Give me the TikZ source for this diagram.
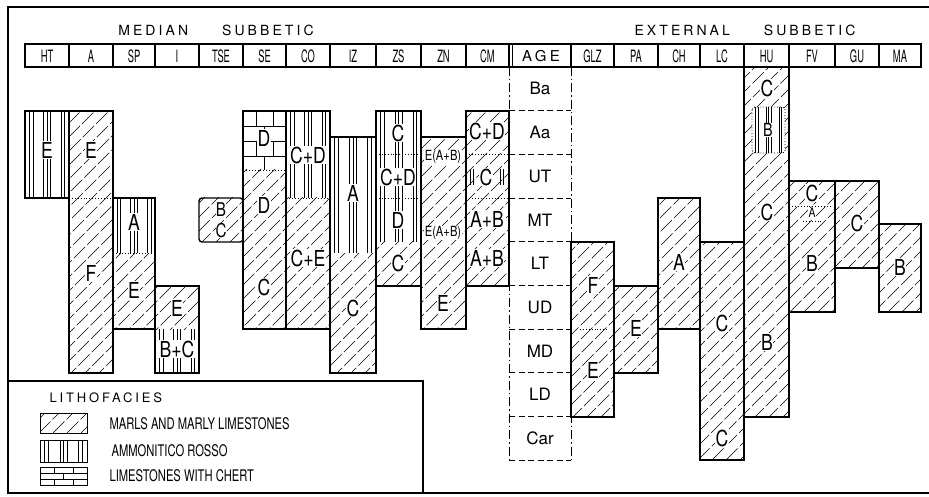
\documentclass[tikz,border=0pt]{standalone}
\usepackage{fontspec}
\setmainfont{TeX Gyre Heros}
\newfontfamily\barfont[FakeStretch=0.8]{TeX Gyre Heros}
\newfontfamily\narrowfont[FakeStretch=0.55]{TeX Gyre Heros}
\newfontfamily\legfont[FakeStretch=0.7]{TeX Gyre Heros}
\newfontfamily\spacedfont[LetterSpace=22]{TeX Gyre Heros}
\usepackage{tikz}

% marls: oblique hatching, clipped to the box
\newcommand\marlfill[4]{%
  \begin{scope}
    \clip (#1,#2) rectangle (#3,#4);
    \foreach \hx in {-560,-546,...,940} \draw[hatchline] (\hx,500) -- ++(560,-560);
  \end{scope}}
% ammonitico rosso: vertical lines
\newcommand\rossofill[4]{%
  \foreach \f in {0.1,0.18,0.42,0.5,0.58,0.82,0.9}
    \draw[rossoline] ({#1+\f*(#3-#1)},#2) -- ({#1+\f*(#3-#1)},#4);}
% limestones with chert: brick courses of height #5
\newcommand\chertfill[5]{%
  \begin{scope}
    \clip (#1,#2) rectangle (#3,#4);
    \pgfmathtruncatemacro\ncourse{round((#4-#2)/#5)-1}
    \foreach \k in {0,...,\ncourse}{
      \ifnum\k>0 \draw[chertline] (#1,{#2+#5*\k}) -- (#3,{#2+#5*\k});\fi
      \ifodd\k
        \draw[chertline] ({#1+0.5*(#3-#1)},{#2+#5*\k}) -- ++(0,#5);
      \else
        \draw[chertline] ({#1+0.3*(#3-#1)},{#2+#5*\k}) -- ++(0,#5);
        \draw[chertline] ({#1+0.7*(#3-#1)},{#2+#5*\k}) -- ++(0,#5);
      \fi}
  \end{scope}}

\begin{document}
\begin{tikzpicture}[x=1pt, y=-1pt,
    barbox/.style={draw, line width=1.4pt},
    hatchline/.style={line width=0.55pt, dash pattern=on 16pt off 3pt},
    rossoline/.style={line width=0.45pt},
    chertline/.style={line width=0.7pt},
    divider/.style={line width=0.9pt, dotted},
    hdrcell/.style={draw, line width=1.2pt},
    frameline/.style={line width=1.5pt},
    agesep/.style={line width=1pt, dash pattern=on 6pt off 3.5pt},
    ageside/.style={line width=0.8pt, dash pattern=on 9pt off 3pt on 1.5pt off 3pt},
    lbl/.style={fill=white, inner sep=0.6pt, font=\barfont\fontsize{22}{22}\selectfont},
    smalllbl/.style={lbl, font=\barfont\fontsize{14}{14}\selectfont},
    agelbl/.style={font=\fontsize{17}{17}\selectfont},
    hdr/.style={font=\narrowfont\fontsize{17}{17}\selectfont},
    regiontitle/.style={font=\spacedfont\fontsize{14}{14}\selectfont},
    legtxt/.style={anchor=west, font=\legfont\fontsize{16}{16}\selectfont}]

    \useasboundingbox (0,0) rectangle (929,497);

    % frame and legend box
    \draw[frameline] (929,7) -- (8,7) -- (8,493) -- (929,493);
    \draw[frameline] (8,381) -- (423,381) -- (423,493);

    \node[regiontitle] (median) at (216,30) {MEDIAN\hspace{34pt}SUBBETIC};
    \node[regiontitle] (external) at (745,30) {EXTERNAL\hspace{34pt}SUBBETIC};

    % header row
    \foreach \xa/\xb/\name in {25/69/HT, 69/113/A, 113/155/SP, 155/199/I, 199/243/TSE,
        243/286/SE, 286/330/CO, 330/376/IZ, 376/421/ZS, 421/466/ZN, 466/509/CM,
        571/614/GLZ, 614/658/PA, 658/700/CH, 700/744/LC, 744/789/HU, 789/835/FV,
        835/879/GU, 879/921/MA} {
      \draw[hdrcell] (\xa,44) rectangle (\xb,67);
      \node[hdr] (h\name) at ({(\xa+\xb)/2},56) {\name};
    }
    \draw[hdrcell] (509,44) rectangle (571,67);
    \draw[line width=0.8pt] (512,44) -- (512,67);
    \node[regiontitle, font=\spacedfont\fontsize{15}{15}\selectfont] (hAGE) at (541,56) {AGE};

    % age column
    \draw[ageside] (509,67) -- (509,460);
    \draw[ageside] (571,67) -- (571,460);
    \foreach \i in {1,...,9} \draw[agesep] (509,{67+43.7*\i}) -- (571,{67+43.7*\i});
    \foreach \lab [count=\i from 0] in {Ba,Aa,UT,MT,LT,UD,MD,LD,Car}
      \node[agelbl] (age\lab) at (540,{67+43.7*(\i+0.5)}) {\lab};

    % HT
    \rossofill{25}{111}{69}{198}
    \draw[barbox] (25,111) rectangle (69,198);
    \node[lbl] (htE) at (47,150) {E};

    % A
    \marlfill{69}{111}{113}{373}
    \draw[divider] (69,198) -- (113,198);
    \draw[barbox] (69,111) rectangle (113,373);
    \node[lbl] (aE) at (91,150) {E};
    \node[lbl] (aF) at (91,273) {F};

    % SP
    \rossofill{113}{198}{155}{253}
    \marlfill{113}{253}{155}{329}
    \draw[divider] (113,253) -- (155,253);
    \draw[barbox] (113,198) rectangle (155,329);
    \node[lbl] (spA) at (134,222) {A};
    \node[lbl] (spE) at (134,290) {E};

    % I
    \marlfill{155}{286}{199}{329}
    \rossofill{155}{329}{199}{373}
    \draw[barbox] (155,286) rectangle (199,373);
    \node[lbl] (iE) at (177,308) {E};
    \node[lbl] (iBC) at (177,349) {B+C};

    % TSE
    \marlfill{199}{198}{243}{242}
    \draw[barbox, rounded corners=3pt] (199,198) rectangle (243,242);
    \node[lbl, inner sep=0pt, font=\barfont\fontsize{19}{19}\selectfont] (tseB) at (221,209.5) {B};
    \node[lbl, inner sep=0pt, font=\barfont\fontsize{19}{19}\selectfont] (tseC) at (221,230.5) {C};

    % SE
    \chertfill{243}{111}{286}{170}{15}
    \marlfill{243}{170}{286}{329}
    \draw[divider] (243,170) -- (286,170);
    \draw[barbox] (243,111) rectangle (286,329);
    \node[lbl] (seD) at (264,138) {D};
    \node[lbl] (seDm) at (264,205) {D};
    \node[lbl] (seC) at (264,287) {C};

    % CO
    \rossofill{286}{111}{330}{198}
    \marlfill{286}{198}{330}{329}
    \draw[divider] (286,198) -- (330,198);
    \draw[barbox] (286,111) rectangle (330,329);
    \node[lbl] (coCD) at (308,155) {C+D};
    \node[lbl] (coCE) at (308,258) {C+E};

    % IZ
    \rossofill{330}{137}{376}{253}
    \marlfill{330}{253}{376}{373}
    \draw[barbox] (330,137) rectangle (376,373);
    \node[lbl] (izA) at (353,193) {A};
    \node[lbl] (izC) at (353,308) {C};

    % ZS
    \rossofill{376}{111}{421}{242}
    \marlfill{376}{242}{421}{286}
    \draw[divider] (376,154) -- (421,154);
    \draw[divider] (376,198) -- (421,198);
    \draw[barbox] (376,111) rectangle (421,286);
    \node[lbl] (zsC) at (398,133) {C};
    \node[lbl] (zsCD) at (398,177) {C+D};
    \node[lbl] (zsD) at (398,220) {D};
    \node[lbl] (zsCb) at (398,263) {C};

    % ZN
    \marlfill{421}{137}{466}{329}
    \draw[barbox] (421,137) rectangle (466,329);
    \node[smalllbl] (znEAB) at (443,157) {E(A+B)};
    \node[smalllbl] (znEABb) at (443,233) {E(A+B)};
    \node[lbl] (znE) at (443,303) {E};

    % CM
    \marlfill{466}{111}{509}{286}
    \draw[divider] (466,154) -- (509,154);
    \draw[divider] (466,198) -- (509,198);
    \draw[barbox] (466,111) rectangle (509,286);
    \node[lbl] (cmCD) at (487,131) {C+D};
    \node[lbl] (cmC) at (486,177) {C};
    \foreach \vx in {470,473,500,503} \draw[rossoline] (\vx,169) -- (\vx,185);
    \node[lbl] (cmAB) at (487,219) {A+B};
    \node[lbl] (cmABb) at (487,258) {A+B};

    % GLZ
    \marlfill{571}{242}{614}{417}
    \draw[divider] (580,329) -- (608,329);
    \draw[barbox] (571,242) rectangle (614,417);
    \node[lbl] (glzF) at (593,285) {F};
    \node[lbl] (glzE) at (593,370) {E};

    % PA
    \marlfill{614}{286}{658}{373}
    \draw[barbox] (614,286) rectangle (658,373);
    \node[lbl] (paE) at (636,328) {E};

    % CH
    \marlfill{658}{198}{700}{329}
    \draw[barbox] (658,198) rectangle (700,329);
    \node[lbl] (chA) at (679,262) {A};

    % LC
    \marlfill{700}{242}{744}{460}
    \draw[barbox] (700,242) rectangle (744,460);
    \node[lbl] (lcC) at (722,323) {C};
    \node[lbl] (lcCb) at (722,438) {C};

    % HU
    \marlfill{744}{67}{789}{417}
    \draw[divider, rounded corners=3pt, fill=white] (752,107) rectangle (785,153);
    \rossofill{752}{107}{785}{153}
    \draw[barbox] (744,67) rectangle (789,417);
    \node[lbl] (huC) at (767,88) {C};
    \node[lbl, font=\barfont\fontsize{18}{18}\selectfont] (huB) at (768,130) {B};
    \node[lbl] (huCb) at (767,212) {C};
    \node[lbl] (huBb) at (767,342) {B};

    % FV
    \marlfill{789}{181}{835}{312}
    \draw[divider] (792,206) -- (830,206);
    \draw[divider] (803,221) -- (823,221);
    \draw[barbox] (789,181) rectangle (835,312);
    \node[lbl] (fvC) at (812,193) {C};
    \node[smalllbl, font=\barfont\fontsize{13}{13}\selectfont] (fvA) at (812,213) {A};
    \node[lbl] (fvB) at (812,263) {B};

    % GU
    \marlfill{835}{181}{879}{268}
    \draw[barbox] (835,181) rectangle (879,268);
    \node[lbl] (guC) at (857,223) {C};

    % MA
    \marlfill{879}{224}{921}{312}
    \draw[barbox] (879,224) rectangle (921,312);
    \node[lbl] (maB) at (900,267) {B};

    % legend
    \node[regiontitle, anchor=west, font=\spacedfont\fontsize{13}{13}\selectfont] (lith) at (46,398) {LITHOFACIES};
    \marlfill{40}{413}{87}{433}
    \draw[barbox, line width=1pt] (40,413) rectangle (87,433);
    \rossofill{40}{440}{87}{462}
    \draw[barbox, line width=1pt] (40,440) rectangle (87,462);
    \chertfill{40}{467}{87}{485}{6}
    \draw[barbox, line width=1pt] (40,467) rectangle (87,485);
    \node[legtxt] (legMarl) at (106,424) {MARLS AND MARLY LIMESTONES};
    \node[legtxt] (legRosso) at (108,451) {AMMONITICO ROSSO};
    \node[legtxt] (legChert) at (106,476) {LIMESTONES WITH CHERT};
\end{tikzpicture}
\end{document}
